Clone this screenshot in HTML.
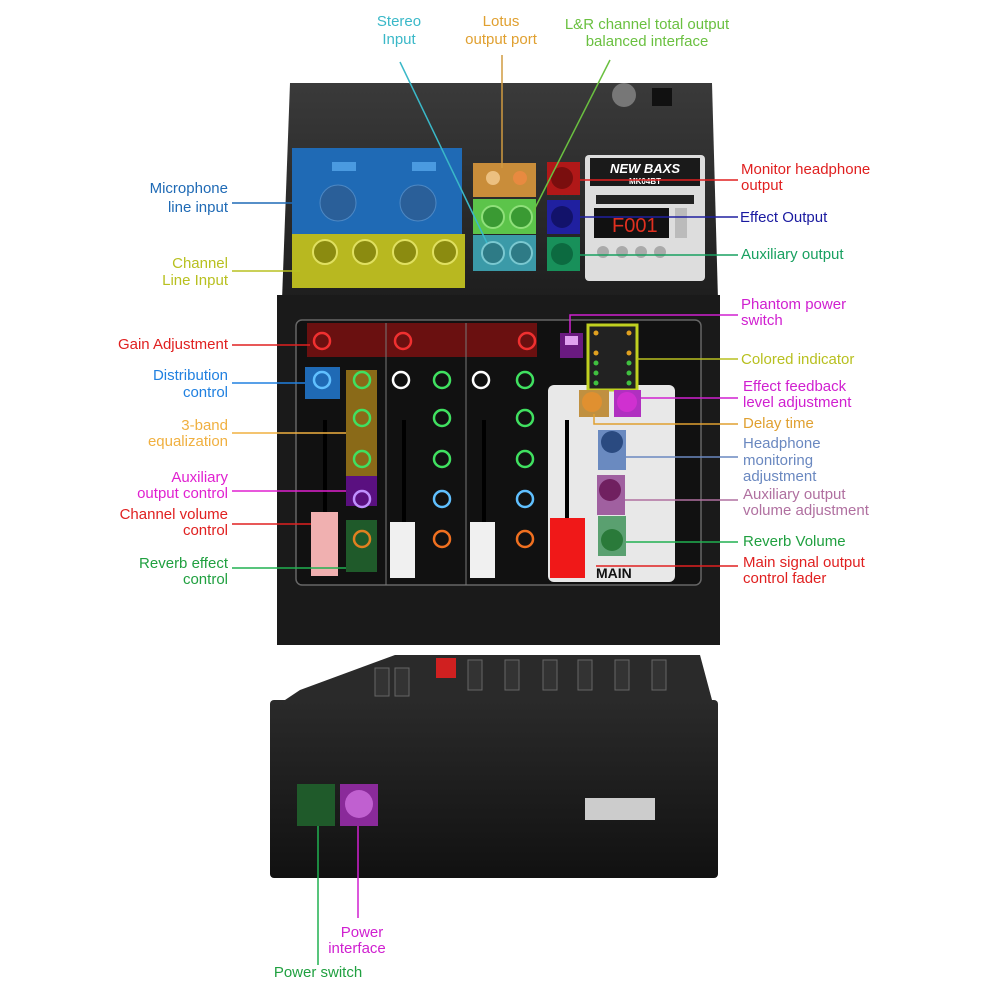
<!DOCTYPE html>
<html><head><meta charset="utf-8"><style>
html,body{margin:0;padding:0;background:#fff}
svg{display:block}
text{font-family:"Liberation Sans",sans-serif}
</style></head><body>
<svg width="1000" height="1000" viewBox="0 0 1000 1000" font-size="15" xmlns="http://www.w3.org/2000/svg">
<defs>
<linearGradient id="bd" x1="0" y1="0" x2="0" y2="1"><stop offset="0" stop-color="#2a2a2a"/><stop offset="1" stop-color="#111"/></linearGradient>
<linearGradient id="bt" x1="0" y1="0" x2="0" y2="1"><stop offset="0" stop-color="#3a3a3a"/><stop offset="1" stop-color="#1e1e1e"/></linearGradient>
</defs>
<!-- top unit body -->
<path d="M290 83 L712 83 L718 300 L282 300 Z" fill="url(#bt)"/>
<rect x="277" y="295" width="443" height="350" fill="#1a1a1a"/>
<rect x="296" y="320" width="405" height="265" rx="6" fill="#111" stroke="#666" stroke-width="1.5"/>
<!-- top panel features -->
<rect x="292" y="148" width="170" height="86" fill="#1f6ab5"/>
<rect x="292" y="234" width="173" height="54" fill="#b8b820"/>
<circle cx="338" cy="203" r="18" fill="#2a5f99" stroke="#4d88c4"/><circle cx="418" cy="203" r="18" fill="#2a5f99" stroke="#4d88c4"/>
<rect x="332" y="162" width="24" height="9" fill="#4a9ae0"/><rect x="412" y="162" width="24" height="9" fill="#4a9ae0"/>
<circle cx="325" cy="252" r="12" fill="#8b8b10" stroke="#e0e060" stroke-width="2"/><circle cx="365" cy="252" r="12" fill="#8b8b10" stroke="#e0e060" stroke-width="2"/>
<circle cx="405" cy="252" r="12" fill="#8b8b10" stroke="#e0e060" stroke-width="2"/><circle cx="445" cy="252" r="12" fill="#8b8b10" stroke="#e0e060" stroke-width="2"/>
<rect x="473" y="163" width="63" height="34" fill="#c98d3a"/>
<rect x="473" y="199" width="63" height="35" fill="#5cc44a"/>
<rect x="473" y="235" width="63" height="36" fill="#3b9aa8"/>
<circle cx="493" cy="217" r="11" fill="#3a9a33" stroke="#8fe07a" stroke-width="2"/><circle cx="521" cy="217" r="11" fill="#3a9a33" stroke="#8fe07a" stroke-width="2"/>
<circle cx="493" cy="253" r="11" fill="#2e7b86" stroke="#7ac8d0" stroke-width="2"/><circle cx="521" cy="253" r="11" fill="#2e7b86" stroke="#7ac8d0" stroke-width="2"/>
<circle cx="493" cy="178" r="7" fill="#ecc080"/><circle cx="520" cy="178" r="7" fill="#e88a40"/>
<rect x="547" y="162" width="33" height="33" fill="#b01818"/>
<rect x="547" y="200" width="33" height="34" fill="#2020a0"/>
<rect x="547" y="237" width="33" height="34" fill="#18905a"/>
<circle cx="562" cy="178" r="11" fill="#7a0e0e"/><circle cx="562" cy="217" r="11" fill="#12126a"/><circle cx="562" cy="254" r="11" fill="#0c6a40"/>
<rect x="585" y="155" width="120" height="126" rx="4" fill="#ddd"/>
<rect x="590" y="158" width="110" height="28" fill="#1a1a1a"/>
<text x="645" y="173" fill="#fff" font-size="13" font-weight="bold" text-anchor="middle" font-style="italic">NEW BAXS</text>
<text x="645" y="184" fill="#fff" font-size="8" font-weight="bold" text-anchor="middle">MK04BT</text>
<rect x="596" y="195" width="98" height="9" fill="#222"/>
<rect x="594" y="208" width="75" height="30" fill="#111"/>
<text x="612" y="232" fill="#e03020" font-size="20">F001</text>
<rect x="675" y="208" width="12" height="30" fill="#bbb"/>
<circle cx="603" cy="252" r="6" fill="#aaa"/><circle cx="622" cy="252" r="6" fill="#aaa"/><circle cx="641" cy="252" r="6" fill="#aaa"/><circle cx="660" cy="252" r="6" fill="#aaa"/>
<circle cx="624" cy="95" r="12" fill="#777"/><rect x="652" y="88" width="20" height="18" fill="#111"/>
<!-- channel area -->
<rect x="307" y="323" width="230" height="34" fill="#6a1010"/>
<line x1="386" y1="323" x2="386" y2="585" stroke="#777"/><line x1="466" y1="323" x2="466" y2="585" stroke="#777"/>
<rect x="305" y="367" width="35" height="32" fill="#1f6ab5"/>
<rect x="346" y="370" width="31" height="106" fill="#8a6a18"/>
<rect x="346" y="476" width="31" height="30" fill="#5a1080"/>
<rect x="346" y="520" width="31" height="52" fill="#1f5a2a"/>
<g fill="none" stroke-width="2.5">
<circle cx="322" cy="341" r="8" stroke="#f03030"/><circle cx="403" cy="341" r="8" stroke="#f03030"/><circle cx="527" cy="341" r="8" stroke="#f03030"/>
<circle cx="322" cy="380" r="8" stroke="#60c0ff"/><circle cx="401" cy="380" r="8" stroke="#fff"/><circle cx="481" cy="380" r="8" stroke="#fff"/>
<circle cx="362" cy="380" r="8" stroke="#40e060"/><circle cx="442" cy="380" r="8" stroke="#40e060"/><circle cx="525" cy="380" r="8" stroke="#40e060"/>
<circle cx="362" cy="418" r="8" stroke="#40e060"/><circle cx="442" cy="418" r="8" stroke="#40e060"/><circle cx="525" cy="418" r="8" stroke="#40e060"/>
<circle cx="362" cy="459" r="8" stroke="#40e060"/><circle cx="442" cy="459" r="8" stroke="#40e060"/><circle cx="525" cy="459" r="8" stroke="#40e060"/>
<circle cx="362" cy="499" r="8" stroke="#c090ff"/><circle cx="442" cy="499" r="8" stroke="#60c0ff"/><circle cx="525" cy="499" r="8" stroke="#60c0ff"/>
<circle cx="362" cy="539" r="8" stroke="#e08020"/><circle cx="442" cy="539" r="8" stroke="#f07020"/><circle cx="525" cy="539" r="8" stroke="#f07020"/>
</g>
<rect x="323" y="420" width="4" height="110" fill="#000"/><rect x="402" y="420" width="4" height="110" fill="#000"/><rect x="482" y="420" width="4" height="110" fill="#000"/>
<rect x="311" y="512" width="27" height="64" fill="#f0b0b0"/><rect x="390" y="522" width="25" height="56" fill="#f0f0f0"/><rect x="470" y="522" width="25" height="56" fill="#f0f0f0"/>
<!-- main section -->
<rect x="548" y="385" width="127" height="197" rx="6" fill="#e8e8e8"/>
<rect x="560" y="333" width="23" height="25" fill="#6a1a80"/><rect x="565" y="336" width="13" height="9" fill="#e0a0f0"/>
<rect x="588" y="325" width="49" height="65" fill="#222" stroke="#c0d020" stroke-width="3"/>
<g fill="#e0a020"><circle cx="596" cy="333" r="2.5"/><circle cx="629" cy="333" r="2.5"/><circle cx="596" cy="353" r="2.5"/><circle cx="629" cy="353" r="2.5"/></g>
<g fill="#40c040"><circle cx="596" cy="363" r="2.5"/><circle cx="629" cy="363" r="2.5"/><circle cx="596" cy="373" r="2.5"/><circle cx="629" cy="373" r="2.5"/><circle cx="596" cy="383" r="2.5"/><circle cx="629" cy="383" r="2.5"/></g>
<rect x="579" y="390" width="30" height="27" fill="#c09040"/><circle cx="592" cy="402" r="10" fill="#e09030"/>
<rect x="614" y="390" width="27" height="27" fill="#b030c0"/><circle cx="627" cy="402" r="10" fill="#d030d0"/>
<rect x="598" y="430" width="28" height="40" fill="#6a8ac0"/><circle cx="612" cy="442" r="11" fill="#2a4a80"/>
<rect x="597" y="475" width="28" height="40" fill="#a060a0"/><circle cx="610" cy="490" r="11" fill="#702060"/>
<rect x="598" y="516" width="28" height="40" fill="#5aa070"/><circle cx="612" cy="540" r="11" fill="#2a7a3a"/>
<rect x="565" y="420" width="4" height="100" fill="#000"/>
<rect x="550" y="518" width="35" height="60" fill="#f01818"/>
<text x="596" y="578" font-size="14" font-weight="bold" fill="#111">MAIN</text>
<!-- bottom unit -->
<path d="M285 700 L300 690 L395 655 L700 655 L712 700 Z" fill="#2a2a2a"/>
<g fill="#333" stroke="#666"><rect x="375" y="668" width="14" height="28"/><rect x="395" y="668" width="14" height="28"/><rect x="468" y="660" width="14" height="30"/><rect x="505" y="660" width="14" height="30"/><rect x="543" y="660" width="14" height="30"/><rect x="578" y="660" width="14" height="30"/><rect x="615" y="660" width="14" height="30"/><rect x="652" y="660" width="14" height="30"/></g>
<rect x="436" y="658" width="20" height="20" fill="#d02020"/>
<rect x="270" y="700" width="448" height="178" rx="4" fill="url(#bd)"/>
<rect x="297" y="784" width="38" height="42" fill="#1f5a2a"/><rect x="340" y="784" width="38" height="42" fill="#8a2a9a"/>
<circle cx="359" cy="804" r="14" fill="#c060d0"/>
<rect x="585" y="798" width="70" height="22" fill="#ccc"/>
<!-- connector lines -->
<g fill="none" stroke-width="1.5">
<line x1="400" y1="62" x2="487" y2="243" stroke="#3ab8c8"/>
<line x1="502" y1="55" x2="502" y2="168" stroke="#d09a40"/>
<line x1="610" y1="60" x2="533" y2="212" stroke="#6ac040"/>
<line x1="232" y1="203" x2="300" y2="203" stroke="#1f6ab5"/>
<line x1="232" y1="271" x2="300" y2="271" stroke="#b8c020"/>
<line x1="580" y1="180" x2="738" y2="180" stroke="#e02020"/>
<line x1="580" y1="217" x2="738" y2="217" stroke="#2020a0"/>
<line x1="580" y1="255" x2="738" y2="255" stroke="#18a060"/>
<polyline points="570,333 570,315 738,315" stroke="#d020d0"/>
<line x1="637" y1="359" x2="738" y2="359" stroke="#b8c020"/>
<line x1="641" y1="398" x2="738" y2="398" stroke="#d020d0"/>
<polyline points="594,414 594,424 738,424" stroke="#e0a030"/>
<line x1="626" y1="457" x2="738" y2="457" stroke="#6a88c0"/>
<line x1="625" y1="500" x2="738" y2="500" stroke="#b070a0"/>
<line x1="626" y1="542" x2="738" y2="542" stroke="#20b050"/>
<line x1="596" y1="566" x2="738" y2="566" stroke="#e02020"/>
<line x1="232" y1="345" x2="310" y2="345" stroke="#e02020"/>
<line x1="232" y1="383" x2="305" y2="383" stroke="#2080e0"/>
<line x1="232" y1="433" x2="346" y2="433" stroke="#f0b040"/>
<line x1="232" y1="491" x2="346" y2="491" stroke="#e020d0"/>
<line x1="232" y1="524" x2="311" y2="524" stroke="#e02020"/>
<line x1="232" y1="568" x2="346" y2="568" stroke="#20b050"/>
<line x1="318" y1="826" x2="318" y2="965" stroke="#20b050"/>
<line x1="358" y1="826" x2="358" y2="918" stroke="#d020d0"/>
</g>
<!-- labels -->
<g text-anchor="middle">
<text x="399" y="26" fill="#3ab8c8">Stereo</text><text x="399" y="44" fill="#3ab8c8">Input</text>
<text x="501" y="26" fill="#e0a030">Lotus</text><text x="501" y="44" fill="#e0a030">output port</text>
<text x="647" y="29" fill="#6ac040">L&amp;R channel total output</text><text x="647" y="46" fill="#6ac040">balanced interface</text>
<text x="362" y="937" fill="#d020d0">Power</text><text x="357" y="953" fill="#d020d0">interface</text>
<text x="318" y="977" fill="#20a040">Power switch</text>
</g>
<g text-anchor="end">
<text x="228" y="193" fill="#1f6ab5">Microphone</text><text x="228" y="212" fill="#1f6ab5">line input</text>
<text x="228" y="268" fill="#b8c020">Channel</text><text x="228" y="285" fill="#b8c020">Line Input</text>
<text x="228" y="349" fill="#e02020">Gain Adjustment</text>
<text x="228" y="380" fill="#2080e0">Distribution</text><text x="228" y="397" fill="#2080e0">control</text>
<text x="228" y="430" fill="#f0b040">3-band</text><text x="228" y="446" fill="#f0b040">equalization</text>
<text x="228" y="482" fill="#e020d0">Auxiliary</text><text x="228" y="498" fill="#e020d0">output control</text>
<text x="228" y="519" fill="#e02020">Channel volume</text><text x="228" y="535" fill="#e02020">control</text>
<text x="228" y="568" fill="#20a040">Reverb effect</text><text x="228" y="584" fill="#20a040">control</text>
</g>
<g>
<text x="741" y="174" fill="#e02020">Monitor headphone</text><text x="741" y="190" fill="#e02020">output</text>
<text x="740" y="222" fill="#1a1aa0">Effect Output</text>
<text x="741" y="259" fill="#18a060">Auxiliary output</text>
<text x="741" y="309" fill="#d020d0">Phantom power</text><text x="741" y="325" fill="#d020d0">switch</text>
<text x="741" y="364" fill="#b8c020">Colored indicator</text>
<text x="743" y="391" fill="#d020d0">Effect feedback</text><text x="743" y="407" fill="#d020d0">level adjustment</text>
<text x="743" y="428" fill="#e0a030">Delay time</text>
<text x="743" y="448" fill="#6a88c0">Headphone</text><text x="743" y="465" fill="#6a88c0">monitoring</text><text x="743" y="481" fill="#6a88c0">adjustment</text>
<text x="743" y="499" fill="#b070a0">Auxiliary output</text><text x="743" y="515" fill="#b070a0">volume adjustment</text>
<text x="743" y="546" fill="#20a040">Reverb Volume</text>
<text x="743" y="567" fill="#e02020">Main signal output</text><text x="743" y="583" fill="#e02020">control fader</text>
</g>
</svg>
</body></html>
